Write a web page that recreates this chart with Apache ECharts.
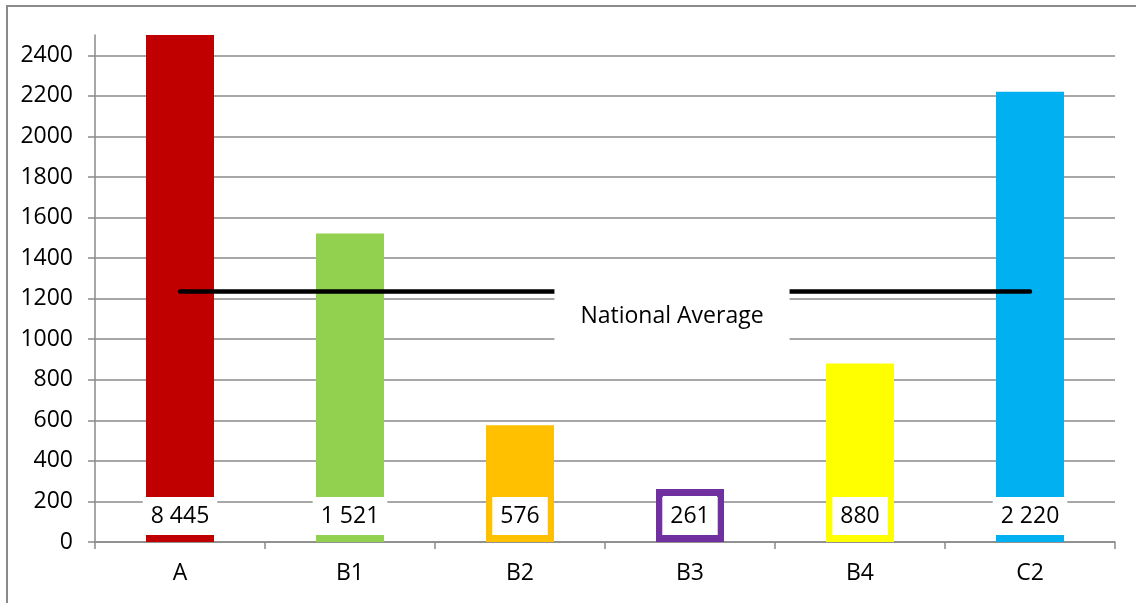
<!DOCTYPE html>
<html>
<head>
<meta charset="utf-8">
<script src="https://cdn.jsdelivr.net/npm/echarts@6/dist/echarts.min.js"></script>
<style>
  html, body { margin: 0; padding: 0; background: #ffffff; }
  #chart { width: 1136px; height: 603px; }
</style>
</head>
<body>
<div id="chart"></div>
<script>
// Regions and their counts
const categories = ['A', 'B1', 'B2', 'B3', 'B4', 'C2'];
const counts = [8445, 1521, 576, 261, 880, 2220];
const nationalAverage = 1235;
const averageLabel = 'National Average';
const yTicks = [0, 200, 400, 600, 800, 1000, 1200, 1400, 1600, 1800, 2000, 2200, 2400];

// Fill colours per region; B3 is drawn as an outlined bar
const fillColors = ['#C00000', '#92D050', '#FFC000', '#FFFFFF', '#FFFF00', '#00B0F0'];
const outlined = { B3: '#7030A0' };

const FONT = '"Open Sans", "Liberation Sans", sans-serif';
const FONT_SIZE = 23;
const GRID_GRAY = '#8a8a8a';

function spaced(n) {
  return String(n).replace(/\B(?=(\d{3})+(?!\d))/g, ' ');
}

const barData = categories.map((c, i) => {
  const item = { value: counts[i], itemStyle: { color: fillColors[i] } };
  if (outlined[c]) {
    item.itemStyle.borderColor = outlined[c];
    item.itemStyle.borderWidth = 7;
  }
  return item;
});

const avgData = categories.map((c, i) => {
  const item = { value: nationalAverage };
  if (i === 3) {
    item.label = {
      show: true,
      formatter: averageLabel,
      position: 'inside',
      offset: [-18, 25],
      backgroundColor: '#ffffff',
      padding: [16, 26],
      color: '#000000',
      fontSize: FONT_SIZE,
      fontFamily: FONT,
      lineHeight: 26
    };
  }
  return item;
});

const chart = echarts.init(document.getElementById('chart'), null, { renderer: 'canvas' });

chart.setOption({
  animation: false,
  backgroundColor: '#ffffff',
  grid: { left: 95, right: 21, top: 35, bottom: 61, containLabel: false },
  xAxis: {
    type: 'category',
    data: categories,
    boundaryGap: true,
    axisLine: { lineStyle: { color: GRID_GRAY, width: 1.5 } },
    axisTick: { show: true, alignWithLabel: false, length: 7, lineStyle: { color: GRID_GRAY, width: 1.5 } },
    axisLabel: { color: '#000000', fontSize: FONT_SIZE, fontFamily: FONT, margin: 20 },
    splitLine: { show: false }
  },
  yAxis: {
    type: 'value',
    min: 0,
    max: 2500,
    interval: 200,
    axisLine: { show: true, lineStyle: { color: GRID_GRAY, width: 1.5 } },
    axisTick: { show: true, length: 7, customValues: yTicks, lineStyle: { color: GRID_GRAY, width: 1.5 } },
    axisLabel: {
      color: '#000000', fontSize: FONT_SIZE, fontFamily: FONT, margin: 22,
      customValues: yTicks,
      formatter: v => String(v)
    },
    splitLine: { show: true, lineStyle: { color: GRID_GRAY, width: 1.5 } }
  },
  series: [
    {
      type: 'bar',
      data: barData,
      barWidth: '40%',
      clip: true,
      label: {
        show: true,
        position: 'insideBottom',
        distance: 7,
        formatter: p => spaced(p.value),
        backgroundColor: '#ffffff',
        padding: [7, 8],
        color: '#000000',
        fontSize: FONT_SIZE,
        fontFamily: FONT,
        lineHeight: 24
      },
      z: 2
    },
    {
      type: 'line',
      data: avgData,
      showSymbol: true,
      symbol: 'circle',
      symbolSize: 0,
      lineStyle: { color: '#000000', width: 4.5, cap: 'round' },
      itemStyle: { color: '#000000' },
      z: 3
    }
  ],
  graphic: [
    {
      type: 'rect',
      shape: { x: 7, y: 6, width: 1200, height: 700 },
      style: { fill: null, stroke: '#8a8a8a', lineWidth: 2 },
      silent: true
    }
  ]
});
</script>
</body>
</html>
